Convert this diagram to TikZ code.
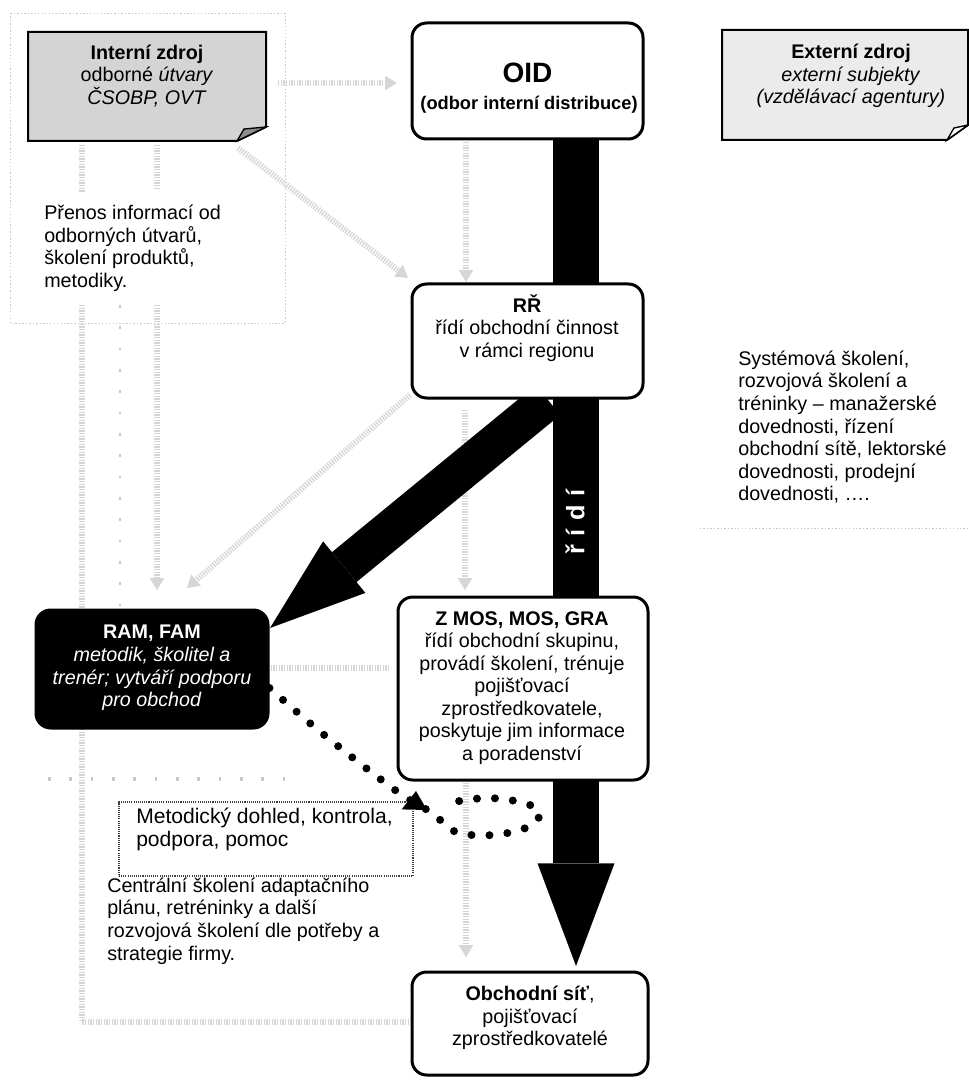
\documentclass[tikz,border=0pt]{standalone}
\usepackage{fontspec}
\setmainfont{Liberation Sans}
\usetikzlibrary{arrows.meta,calc}
\begin{document}
\begin{tikzpicture}[x=0.75pt,y=-0.75pt,
  box/.style={draw=black, line width=2.25pt, rounded corners=11pt, fill=white, inner sep=0pt},
  body/.style={font=\fontsize{14.8}{16.9}\selectfont, inner sep=0pt},
  ghost/.style={draw=black!16, line width=4.5pt, dash pattern=on 1pt off 1pt},
  ghostthin/.style={draw=black!22, line width=0.7pt, dash pattern=on 1pt off 1.6pt},
  ghosttip/.style={-{Triangle[length=9pt,width=11pt,line width=0pt]}},
  bararrow/.style={draw=black, line width=34.5pt, -{Triangle[length=77pt,width=57.75pt,line width=0pt]}},
  diagarrow/.style={draw=black, line width=29pt, -{Triangle[length=72pt,width=50pt,line width=0pt]}},
  dotline/.style={draw=black, line width=6pt, dash pattern=on 0pt off 13.5pt, line cap=round},
  notebox/.style={draw=black, line width=1.5pt},
]
\useasboundingbox (0,0) rectangle (968,1080);

% ---------- faint background traces ----------
\draw[ghostthin] (10,13) rectangle (285,323);
\coordinate (g1a) at (278,83);  \coordinate (g1b) at (397,83);
\draw[ghost,ghosttip] (g1a) -- (g1b);
\coordinate (g2a) at (238,148); \coordinate (g2b) at (408,278);
\draw[ghost,ghosttip] (g2a) -- (g2b);
\coordinate (g3a) at (466,142); \coordinate (g3b) at (466,282);
\draw[ghost,ghosttip] (g3a) -- (g3b);
\coordinate (g4a) at (82,145);  \coordinate (g4b) at (82,193);
\draw[ghost] (g4a) -- (g4b);
\coordinate (g5a) at (157,145); \coordinate (g5b) at (157,190);
\draw[ghost] (g5a) -- (g5b);
\coordinate (g6a) at (82,305);  \coordinate (g6b) at (82,1022); \coordinate (g6c) at (410,1022);
\draw[ghost] (g6a) -- (g6b) -- (g6c);
\coordinate (g7a) at (120,305); \coordinate (g7b) at (120,610);
\draw[ghostthin, line width=2pt, dash pattern=on 2pt off 14pt] (g7a) -- (g7b);
\coordinate (g8a) at (157,305); \coordinate (g8b) at (157,590);
\draw[ghost,ghosttip] (g8a) -- (g8b);
\coordinate (g9a) at (410,395); \coordinate (g9b) at (187,588);
\draw[ghost,ghosttip] (g9a) -- (g9b);
\coordinate (g10a) at (465,410); \coordinate (g10b) at (465,590);
\draw[ghost,ghosttip] (g10a) -- (g10b);
\coordinate (g11a) at (466,780); \coordinate (g11b) at (466,957);
\draw[ghost,ghosttip] (g11a) -- (g11b);
\coordinate (g12a) at (268,668); \coordinate (g12b) at (390,668);
\draw[ghost] (g12a) -- (g12b);
\coordinate (g13a) at (48,779); \coordinate (g13b) at (300,779);
\draw[ghostthin, line width=3pt, dash pattern=on 2pt off 14pt] (g13a) -- (g13b);
\coordinate (g14a) at (700,528); \coordinate (g14b) at (968,528);
\draw[ghostthin] (g14a) -- (g14b);

% ---------- notes ----------
\path[notebox, fill=black!17] (28,32) -- (266,32) -- (266,127) -- (237,141) -- (28,141) -- cycle;
\filldraw[fill=black!45, line width=1pt] (266,127) -- (237,141) -- (244,129) -- cycle;
\node[body, align=center] (intern) at (147,76)
  {\textbf{Interní zdroj}\\odborné \textit{útvary}\\\textit{ČSOBP, OVT}};

\path[notebox, fill=black!8] (722,30) -- (968,30) -- (968,125) -- (947,140) -- (722,140) -- cycle;
\filldraw[fill=white, line width=1pt] (968,125) -- (947,140) -- (954,128) -- cycle;
\node[body, align=center] (extern) at (851,76)
  {\textbf{Externí zdroj}\\\textit{externí subjekty}\\\textit{(vzdělávací agentury)}};

% ---------- big arrows ----------
\coordinate (barTop) at (576,130);
\coordinate (barTip) at (576,966);
\draw[bararrow] (barTop) -- (barTip);
\coordinate (dStart) at (548,400);
\coordinate (dTip) at (270,628);
\draw[diagarrow] (dStart) -- (dTip);
\node[rotate=90, text=white, inner sep=0pt, font=\bfseries\fontsize{19}{19}\selectfont] (ridi) at (575,522)
  {ř\hspace{6.5pt}í\hspace{6.5pt}d\hspace{6.5pt}í};

% ---------- boxes ----------
\node[box, minimum width=173.25pt, minimum height=87pt] (oid) at (527.5,81) {};
\node[inner sep=0pt, font=\bfseries\fontsize{21}{21}\selectfont] (oidt) at (527.5,73) {OID};
\node[inner sep=0pt, font=\bfseries\fontsize{13.7}{16}\selectfont] (oids) at (529,105) {(odbor interní distribuce)};

\node[box, minimum width=173.25pt, minimum height=85.5pt] (rr) at (527.5,341) {};
\node[body, align=center] (rrt) at (527,328)
  {\textbf{RŘ}\\řídí obchodní činnost\\v rámci regionu};

\node[box, minimum width=187.5pt, minimum height=137.25pt] (zmos) at (523,688.5) {};
\node[body, align=center] (zmost) at (522,688)
  {\textbf{Z MOS, MOS, GRA}\\řídí obchodní skupinu,\\provádí školení, trénuje\\pojišťovací\\zprostředkovatele,\\poskytuje jim informace\\a poradenství};

\node[box, fill=black, minimum width=174pt, minimum height=88.5pt] (ram) at (152,669) {};
\node[body, align=center, text=white] (ramt) at (152,668)
  {\textbf{RAM, FAM}\\\textit{metodik, školitel a}\\\textit{trenér; vytváří podporu}\\\textit{pro obchod}};

\node[box, minimum width=177pt, minimum height=77.25pt] (net) at (530,1023.5) {};
\node[body, align=center] (nett) at (530,1018)
  {\textbf{Obchodní síť},\\pojišťovací\\zprostředkovatelé};

\node[draw=black!75, line width=0.9pt, dash pattern=on 0.8pt off 0.8pt,
      minimum width=220.5pt, minimum height=55.5pt, inner sep=0pt] (met) at (266,839) {};
\node[inner sep=0pt, font=\fontsize{15.8}{17.2}\selectfont, align=left, anchor=west] (mett) at (136,829.5)
  {Metodický dohled, kontrola,\\podpora, pomoc};

% ---------- free texts ----------
\node[body, align=left, anchor=west] (prenos) at (44,248.5)
  {Přenos informací od\\odborných útvarů,\\školení produktů,\\metodiky.};
\node[body, align=left, anchor=west] (system) at (738,427)
  {Systémová školení,\\rozvojová školení a\\tréninky – manažerské\\dovednosti, řízení\\obchodní sítě, lektorské\\dovednosti, prodejní\\dovednosti, ….};
\node[body, align=left, anchor=west] (central) at (107,921)
  {Centrální školení adaptačního\\plánu, retréninky a další\\rozvojová školení dle potřeby a\\strategie firmy.};

% ---------- dotted loop connector ----------
\coordinate (loopEnd) at (448,803);
\draw[dotline] plot[smooth, tension=0.6] coordinates
  {(ram.east |- 0,688) (323,734) (395,790) (432,813) (456,832) (493,835) (528,827) (540,813) (524,803) (487,798) (loopEnd)};
\fill (met.north east) ++(-12,8) -- (416,791) -- (427,810) -- cycle;
\end{tikzpicture}
\end{document}
